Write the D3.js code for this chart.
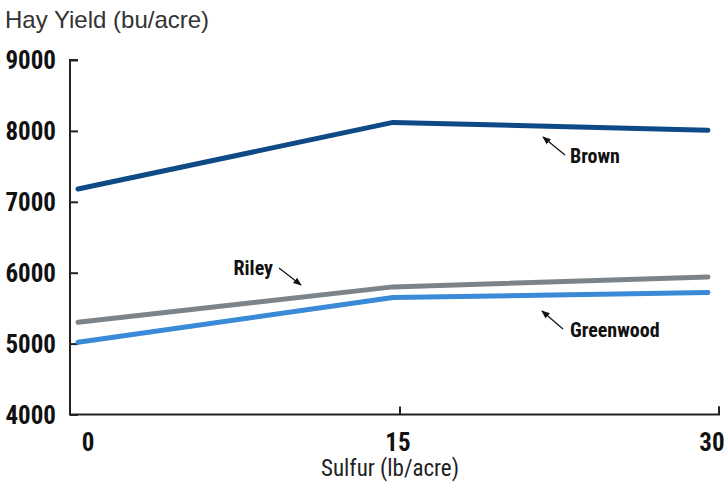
<!DOCTYPE html>
<html><head><meta charset="utf-8">
<script src="https://cdn.jsdelivr.net/npm/d3@7"></script>
<style>body{margin:0;background:#fff;}svg{display:block;}</style>
</head><body>
<svg id="c" width="728" height="491"></svg>
<script>
const sulfur = [0, 15, 30];
const brown = [7180, 8120, 8010];
const riley = [5300, 5800, 5940];
const greenwood = [5020, 5650, 5720];
const yTicks = [4000, 5000, 6000, 7000, 8000, 9000];
const xTicks = [0, 15, 30];
const seriesNames = ["Brown", "Riley", "Greenwood"];

const svg = d3.select("#c");
const cond = "'Liberation Sans Narrow','Roboto Condensed','Arial Narrow',sans-serif";
const x = d3.scaleLinear().domain([0, 30]).range([78, 708]);
const y = d3.scaleLinear().domain([4000, 9000]).range([414.5, 60]);

// title
svg.append("text").attr("x", 5).attr("y", 28).text("Hay Yield (bu/acre)")
  .attr("font-family", "'Liberation Sans',Arial,sans-serif").attr("font-size", 24).attr("fill", "#333");

// y axis
const yA = svg.append("g").attr("transform", "translate(70,0)")
  .call(d3.axisRight(y).tickValues(yTicks).tickSize(8).tickFormat(""));
yA.select(".domain").attr("d", `M8,${y(9000)}H0V${y(4000)}`).attr("stroke", "#222").attr("stroke-width", 2);
yA.selectAll(".tick line").attr("stroke", "#222").attr("stroke-width", 2);
svg.selectAll(".ylab").data(yTicks).enter().append("text")
  .attr("x", 56).attr("y", d => y(d)).attr("dy", "0.36em").attr("text-anchor", "end")
  .attr("font-family", cond).attr("font-weight", "bold").attr("font-size", 25).attr("fill", "#111")
  .text(d => d);

// x axis
const xA = svg.append("g").attr("transform", `translate(0,${y(4000)})`)
  .call(d3.axisTop(x).tickValues(xTicks.slice(1)).tickSize(8).tickFormat(""));
xA.select(".domain").attr("d", `M69,0H${x(30)+11}V-8`).attr("stroke", "#222").attr("stroke-width", 2);
xA.selectAll(".tick").attr("transform", d => `translate(${d===30 ? x(d)+11 : x(d)+7},0)`);
xA.selectAll(".tick line").attr("stroke", "#222").attr("stroke-width", 2);
svg.selectAll(".xlab").data(xTicks).enter().append("text")
  .attr("x", d => d===0 ? x(d)+10 : d===30 ? x(d)+4 : x(d)+5).attr("y", 442).attr("dy", "0.36em").attr("text-anchor", "middle")
  .attr("font-family", cond).attr("font-weight", "bold").attr("font-size", 25).attr("fill", "#111")
  .text(d => d);
svg.append("text").attr("x", 390).attr("y", 468).attr("dy", "0.36em").attr("text-anchor", "middle")
  .attr("font-family", cond).attr("font-size", 23).attr("fill", "#222").text("Sulfur (lb/acre)");

// lines
const line = d3.line().x((d, i) => x(sulfur[i])).y(d => y(d));
const series = [
  {name: seriesNames[0], vals: brown, color: "#0d4a86"},
  {name: seriesNames[1], vals: riley, color: "#7c848a"},
  {name: seriesNames[2], vals: greenwood, color: "#3a8ad8"}
];
svg.selectAll(".ln").data(series).enter().append("path")
  .attr("d", d => line(d.vals)).attr("fill", "none").attr("stroke", d => d.color)
  .attr("stroke-width", 5).attr("stroke-linecap", "round").attr("stroke-linejoin", "round");

// annotations
const defs = svg.append("defs");
defs.append("marker").attr("id", "ah").attr("viewBox", "0 0 10 10").attr("refX", 9).attr("refY", 5)
  .attr("markerWidth", 7).attr("markerHeight", 7).attr("orient", "auto")
  .append("path").attr("d", "M0,1L10,5L0,9Z").attr("fill", "#111");
const ann = [
  {t: seriesNames[0], tx: 570, ty: 156, anchor: "start", a: [565, 155, 543, 137]},
  {t: seriesNames[1], tx: 273, ty: 268, anchor: "end", a: [279, 268, 301, 285]},
  {t: seriesNames[2], tx: 570, ty: 330, anchor: "start", a: [563, 329, 542, 311]}
];
ann.forEach(a => {
  svg.append("text").attr("x", a.tx).attr("y", a.ty).attr("dy", "0.36em").attr("text-anchor", a.anchor)
    .attr("font-family", cond).attr("font-weight", "bold").attr("font-size", 20).attr("fill", "#111").text(a.t);
  svg.append("line").attr("x1", a.a[0]).attr("y1", a.a[1]).attr("x2", a.a[2]).attr("y2", a.a[3])
    .attr("stroke", "#111").attr("stroke-width", 1.2).attr("marker-end", "url(#ah)");
});
</script>
</body></html>
